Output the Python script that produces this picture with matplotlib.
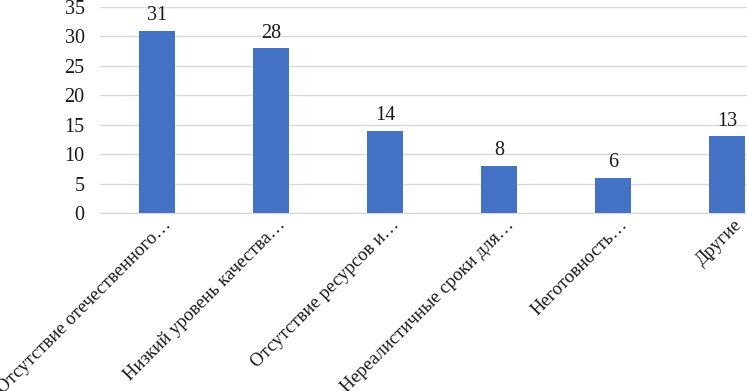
import matplotlib
matplotlib.use("Agg")
import matplotlib.pyplot as plt
from matplotlib.transforms import ScaledTranslation

categories = ["Отсутствие отечественного…", "Низкий уровень качества…",
              "Отсутствие ресурсов и…", "Нереалистичные сроки для…",
              "Неготовность…", "Другие"]
values = [31, 28, 14, 8, 6, 13]
yticks = [0, 5, 10, 15, 20, 25, 30, 35]

plt.rcParams['font.family'] = ['Liberation Serif', 'DejaVu Serif']

fig = plt.figure(figsize=(7.47, 3.91), dpi=100)
W, H = 747, 391
left_px, right_px = 100, 784
bottom_px, top_px = 213, 7
ax = fig.add_axes([left_px / W, 1 - bottom_px / H, (right_px - left_px) / W, (bottom_px - top_px) / H])

x = list(range(len(categories)))
bars = ax.bar(x, values, width=0.32, color='#4472C4', zorder=3)
ax.set_xlim(-0.5, len(categories) - 0.5)
ax.set_ylim(0, 35)
ax.set_yticks(yticks)
ax.yaxis.grid(True, color='#D9D9D9', linewidth=1, zorder=0)
for s in ['top', 'right', 'left']:
    ax.spines[s].set_visible(False)
ax.spines['bottom'].set_color('#D9D9D9')
ax.tick_params(axis='both', length=0, labelsize=14.5, colors='#1a1a1a')
ax.tick_params(axis='y', pad=11)
ax.set_xticks(x)
ax.set_xticklabels([])

offset = ScaledTranslation(12 / 100, -9 / 100, fig.dpi_scale_trans)
trans = ax.get_xaxis_transform() + offset
for xi, cat in zip(x, categories):
    ax.text(xi, 0, cat, transform=trans, rotation=45, ha='right', va='center',
            rotation_mode='anchor', fontsize=13.5, color='#1a1a1a', clip_on=False)

for xi, v in zip(x, values):
    ax.annotate(str(v), (xi, v), xytext=(0, 4), textcoords='offset points',
                ha='center', va='bottom', fontsize=14.5, color='#1a1a1a')

fig.savefig('out.png', dpi=100)
